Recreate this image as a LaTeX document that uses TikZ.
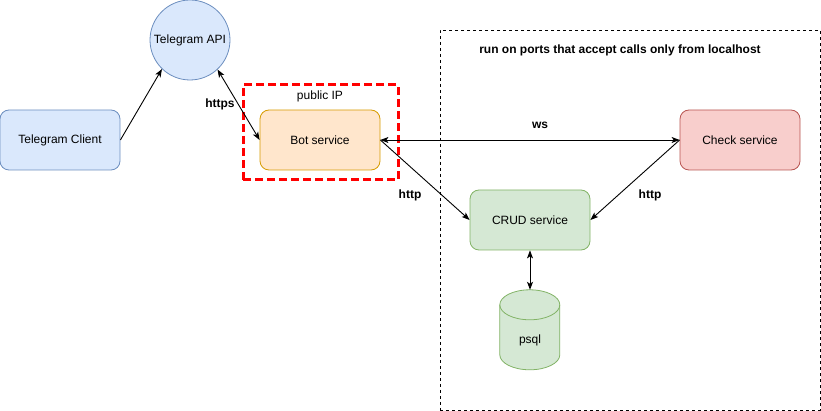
\documentclass[tikz,border=0pt]{standalone}
\usepackage{fontspec}
\setmainfont{Liberation Sans}
\usetikzlibrary{arrows.meta}
\definecolor{clientfill}{HTML}{DAE8FC}
\definecolor{clientline}{HTML}{6C8EBF}
\definecolor{botfill}{HTML}{FFE6CC}
\definecolor{botline}{HTML}{D79B00}
\definecolor{checkfill}{HTML}{F8CECC}
\definecolor{checkline}{HTML}{B85450}
\definecolor{crudfill}{HTML}{D5E8D4}
\definecolor{crudline}{HTML}{82B366}
\definecolor{ipred}{HTML}{FF0000}
\begin{document}
\begin{tikzpicture}[>={Stealth[length=8bp,width=6bp,inset=2bp]},line join=bevel,
  every node/.style={font=\fontsize{12bp}{14bp}\selectfont,inner sep=0bp},
  svcbox/.style={draw,rounded corners=9bp,minimum width=120bp,minimum height=60bp,line width=0.8bp},
  boldlabel/.style={draw=none,font=\fontsize{12bp}{14bp}\selectfont\bfseries},
  link/.style={black,line width=0.9bp},
]
%%
\useasboundingbox (0bp,0bp) rectangle (821bp,411bp);
\node (localhost) at (630bp,191bp) [draw,dash pattern=on 3bp off 3bp,line width=0.9bp,minimum width=380bp,minimum height=380bp] {};
\node (publicip) at (320.5bp,278.5bp) [draw=ipred,dash pattern=on 8bp off 4bp,line width=3bp,minimum width=155bp,minimum height=95bp] {};
\node (localhostlabel) at (620bp,361bp) [boldlabel] {run on ports that accept calls only from localhost};
\node (publiciplabel) at (320bp,315bp) [draw=none] {public IP};
  \node (tgapi) at (190bp,371bp) [circle,draw=clientline,fill=clientfill,minimum size=80bp,line width=0.8bp] {Telegram API};
  \node (tgclient) at (60bp,271bp) [svcbox,draw=clientline,fill=clientfill] {Telegram Client};
  \node (bot) at (320bp,271bp) [svcbox,draw=botline,fill=botfill] {Bot service};
  \node (check) at (740bp,271bp) [svcbox,draw=checkline,fill=checkfill] {Check service};
  \node (crud) at (530bp,191bp) [svcbox,draw=crudline,fill=crudfill] {CRUD service};
  \node (psql) at (530bp,81bp) [draw=none,minimum width=60bp,minimum height=80bp] {};
%
\draw [crudline,fill=crudfill,line width=0.8bp] (psql.north west) ++(0bp,-15bp) -- ++(0bp,-50bp) arc (180:360:30bp and 15bp) -- ++(0bp,50bp) arc (0:180:30bp and 15bp) -- cycle;
\draw [crudline,line width=0.8bp] (psql.north west) ++(0bp,-15bp) arc (180:360:30bp and 15bp);
  \node (psqllabel) at (530bp,71bp) [draw=none] {psql};
  \node (https) at (220bp,307bp) [boldlabel] {https};
  \node (ws) at (540bp,286bp) [boldlabel] {ws};
  \node (bothttp) at (410bp,216bp) [boldlabel] {http};
  \node (checkhttp) at (650bp,216bp) [boldlabel] {http};
  \draw [link,->] (tgclient.east) -- (tgapi.226);
  \draw [link,<->] (tgapi.-47) -- (bot.west);
  \draw [link,<->] (bot.east) -- (check.west);
  \draw [link,->] (bot.east) -- (crud.west);
  \draw [link,->] (check.west) -- (crud.east);
  \draw [link,<->] (crud.south) -- (psql.north);
%
\end{tikzpicture}
\end{document}
